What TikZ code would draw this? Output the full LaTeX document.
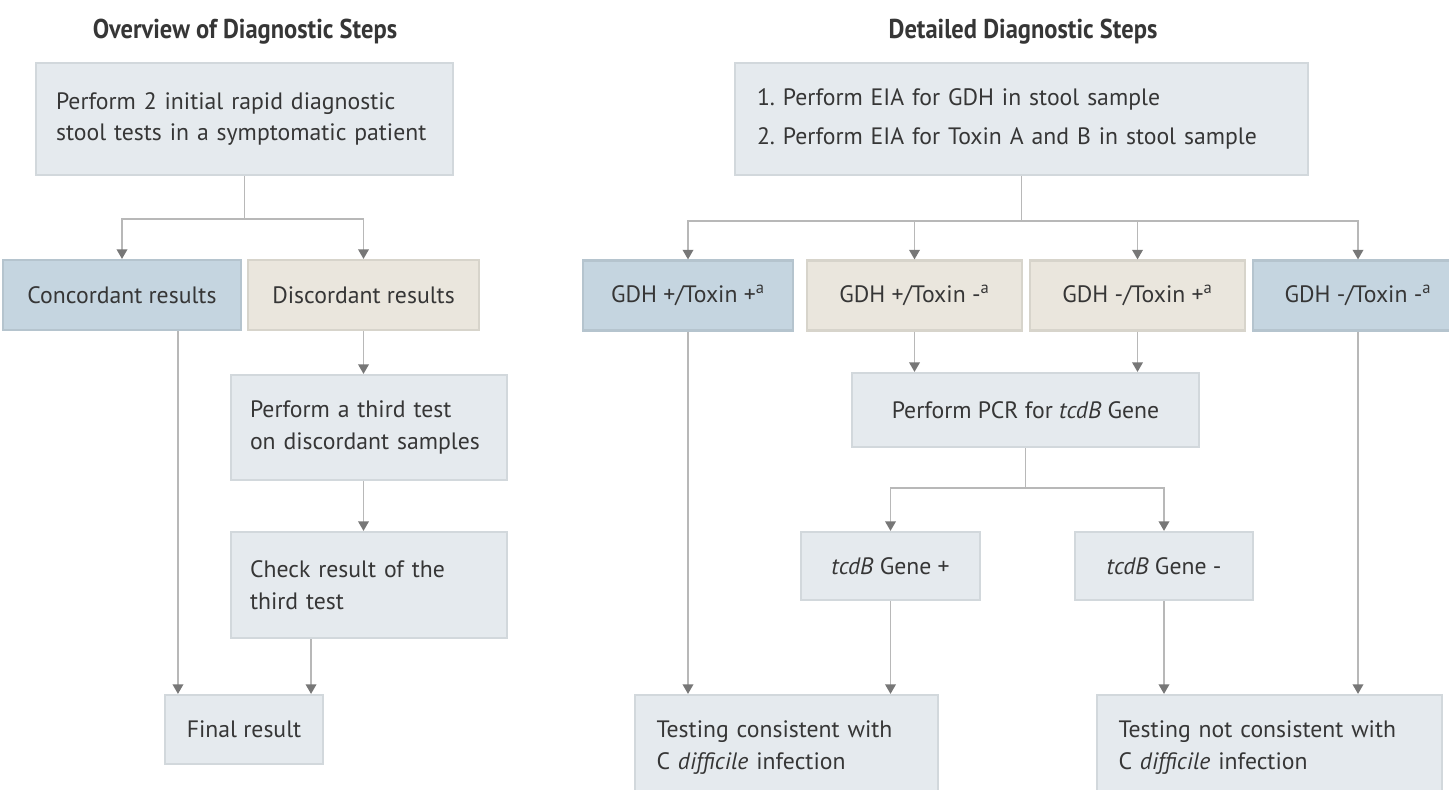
\documentclass[tikz,border=0pt]{standalone}
\usepackage{fontspec}
\setmainfont{PT Sans}
\newfontfamily\titlefont[FakeStretch=0.9]{PT Sans}
\usetikzlibrary{arrows.meta,calc}
\hyphenpenalty=10000
\definecolor{boxfill}{HTML}{E5EAEE}
\definecolor{boxline}{HTML}{D2D8DC}
\definecolor{bluefill}{HTML}{C5D5E0}
\definecolor{beigefill}{HTML}{EAE6DD}
\definecolor{connline}{HTML}{B8B8B8}
\definecolor{tipgray}{HTML}{777777}
\definecolor{txt}{HTML}{363636}
\tikzset{
  box/.style={draw=boxline, fill=boxfill, line width=1.2pt, inner sep=0pt, text=txt,
    font=\fontsize{13.5}{18}\selectfont},
  lbox/.style={box, align=left},
  bluebox/.style={box, fill=bluefill, draw=bluefill!92!black},
  beigebox/.style={box, fill=beigefill, draw=beigefill!92!black},
  conn/.style={draw=connline, line width=1.1pt},
  arr/.style={conn, -{Triangle[width=6pt,length=5.5pt,color=tipgray]}},
  heading/.style={text=txt, font=\titlefont\bfseries\fontsize{15.5}{18}\selectfont}
}

\begin{document}
\begin{tikzpicture}[x=0.02cm, y=-0.02cm]
	\useasboundingbox (0,0) rectangle (1449,789);
	
	%%%%% OVERVIEW %%%%%
	\node[heading] (t1) at (245,32) {Overview of Diagnostic Steps};
	
	\node[lbox, minimum width=8.34cm, minimum height=2.24cm, text width=7.54cm] (initial) at (244.5,119)
		{Perform 2 initial rapid diagnostic\\stool tests in a symptomatic patient};
	
	\node[bluebox, minimum width=4.76cm, minimum height=1.40cm] (conc) at (122,295) {Concordant results};
	\node[beigebox, minimum width=4.62cm, minimum height=1.40cm] (disc) at (363.5,295) {Discordant results};
	
	\node[lbox, minimum width=5.52cm, minimum height=2.10cm, text width=4.76cm] (third) at (369,427.5)
		{Perform a third test\\on discordant samples};
	\node[lbox, minimum width=5.52cm, minimum height=2.12cm, text width=4.76cm] (check) at (369,585)
		{Check result of the\\third test};
	
	\node[box, minimum width=3.16cm, minimum height=1.38cm] (final) at (244,729.5) {Final result};
	
	\draw[conn] (initial.south) -- ++(0,43) coordinate (ja);
	\draw[arr] (ja) -| (conc.north);
	\draw[arr] (ja) -| (disc.north);
	\draw[arr] (disc.south) -- (disc.south |- third.north);
	\draw[arr] (disc.south |- third.south) -- (disc.south |- check.north);
	
	\coordinate (fin1) at ($(final.north west)+(14,0)$);
	\coordinate (fin2) at ($(final.north east)+(-13,0)$);
	\draw[arr] (fin1 |- conc.south) -- (fin1);
	\draw[arr] (fin2 |- check.south) -- (fin2);
	
	%%%%% DETAILED %%%%%
	\node[heading] (t2) at (1023,32) {Detailed Diagnostic Steps};
	
	\node[lbox, minimum width=11.46cm, minimum height=2.24cm, text width=10.58cm,
		font=\fontsize{13.5}{22}\selectfont] (eia) at (1021.5,119)
		{1.\ Perform EIA for GDH in stool sample\\2.\ Perform EIA for Toxin A and B in stool sample};
	
	\node[bluebox, minimum width=4.20cm, minimum height=1.40cm] (gpp) at (688,295.5) {GDH +/Toxin +\textsuperscript{a}};
	\node[beigebox, minimum width=4.30cm, minimum height=1.40cm] (gpm) at (914.5,295.5) {GDH +/Toxin -\textsuperscript{a}};
	\node[beigebox, minimum width=4.30cm, minimum height=1.40cm] (gmp) at (1137.5,295.5) {GDH -/Toxin +\textsuperscript{a}};
	\node[bluebox, minimum width=4.20cm, minimum height=1.40cm] (gmm) at (1358,295.5) {GDH -/Toxin -\textsuperscript{a}};
	
	\node[box, minimum width=6.94cm, minimum height=1.48cm] (pcr) at (1025.5,410) {Perform PCR for \textit{tcdB} Gene};
	
	\node[box, minimum width=3.58cm, minimum height=1.36cm] (tcdp) at (890.5,566) {\textit{tcdB} Gene +};
	\node[box, minimum width=3.56cm, minimum height=1.36cm] (tcdm) at (1164,566) {\textit{tcdB} Gene -};
	
	\node[lbox, minimum width=6.06cm, minimum height=2.10cm, text width=5.20cm] (cons) at (786.5,747.5)
		{Testing consistent with\\C \textit{difficile} infection};
	\node[lbox, minimum width=6.90cm, minimum height=2.10cm, text width=6.04cm] (notcons) at (1269.5,747.5)
		{Testing not consistent with\\C \textit{difficile} infection};
	
	\draw[conn] (eia.south) -- ++(0,45) coordinate (jb);
	\foreach \n in {gpp,gpm,gmp,gmm}
		\draw[arr] (jb) -| (\n.north);
	\draw[arr] (gpm.south) -- (gpm.south |- pcr.north);
	\draw[arr] (gmp.south) -- (gmp.south |- pcr.north);
	
	\draw[conn] (pcr.south) -- ++(0,40) coordinate (jc);
	\draw[arr] (jc) -| (tcdp.north);
	\draw[arr] (jc) -| (tcdm.north);
	
	\draw[arr] (gpp.south) -- (gpp.south |- cons.north);
	\draw[arr] (tcdp.south) -- (tcdp.south |- cons.north);
	\draw[arr] (tcdm.south) -- (tcdm.south |- notcons.north);
	\draw[arr] (gmm.south) -- (gmm.south |- notcons.north);
\end{tikzpicture}
\end{document}
